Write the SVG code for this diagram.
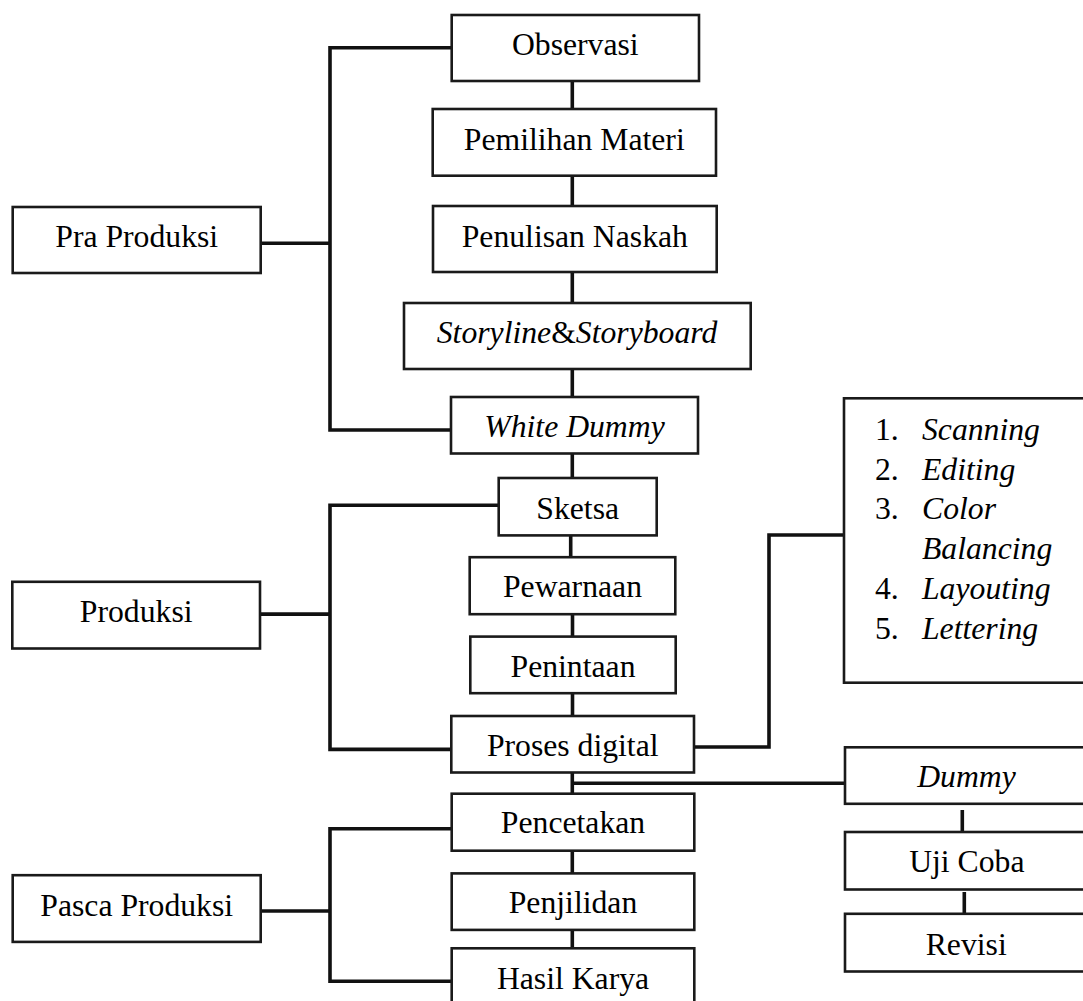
<svg xmlns="http://www.w3.org/2000/svg" width="1083" height="1001" viewBox="0 0 1083 1001">
<style>
.box{fill:#fff;stroke:#1a1a1a;stroke-width:2.6}
.t{font-family:"Liberation Serif","Times New Roman",serif;font-size:31.7px;fill:#000;text-anchor:middle}
.i{font-style:italic}
.l{font-family:"Liberation Serif","Times New Roman",serif;font-size:31.7px;fill:#000}
.c{fill:none;stroke:#111;stroke-width:3.6;stroke-linejoin:miter;stroke-linecap:butt}
</style>
<rect width="1083" height="1001" fill="#fff"/>
<g id="connectors">
<path class="c" d="M452,47.7 H330 V430 H451"/>
<path class="c" d="M260.7,243.3 H330"/>
<path class="c" d="M499,505.2 H330 V749.4 H451.3"/>
<path class="c" d="M260,614.1 H330"/>
<path class="c" d="M451.7,828.8 H330 V981.3 H451.7"/>
<path class="c" d="M260.7,911 H330"/>
<path class="c" d="M572.3,81 V109 M572.3,175.7 V206 M572.3,272 V303 M572.3,369 V397 M572.3,453.5 V478 M570.7,535.4 V557.2 M572.5,614.2 V636.6 M572.5,693.2 V716 M572.3,772.5 V793.7 M572.3,850.7 V873.4 M572.3,929.9 V948.3"/>
<path class="c" d="M572.3,783.3 H845"/>
<path class="c" d="M694,747 H769 V535 H844"/>
<path class="c" d="M962.3,810 V832 M964.3,892 V914"/>
</g>
<g id="observasi"><rect class="box" x="451.7" y="15" width="247.3" height="66"/><text class="t" x="575.3" y="55">Observasi</text></g>
<g id="pemilihan-materi"><rect class="box" x="432.7" y="109" width="283.3" height="66.7"/><text class="t" x="574.3" y="150">Pemilihan Materi</text></g>
<g id="penulisan-naskah"><rect class="box" x="433" y="206" width="283.7" height="66"/><text class="t" x="574.8" y="246.7">Penulisan Naskah</text></g>
<g id="storyline"><rect class="box" x="404" y="303" width="346.7" height="66"/><text class="t" x="577" y="343.3"><tspan class="i">Storyline</tspan>&amp;<tspan class="i">Storyboard</tspan></text></g>
<g id="white-dummy"><rect class="box" x="451" y="397" width="247" height="56.5"/><text class="t i" x="574.5" y="436.7">White Dummy</text></g>
<g id="sketsa"><rect class="box" x="498.7" y="478" width="158" height="57.4"/><text class="t" x="577.7" y="519.2">Sketsa</text></g>
<g id="pewarnaan"><rect class="box" x="469.7" y="557.2" width="205.6" height="57"/><text class="t" x="572.5" y="596.5">Pewarnaan</text></g>
<g id="penintaan"><rect class="box" x="470.3" y="636.6" width="205.4" height="56.6"/><text class="t" x="573" y="676.6">Penintaan</text></g>
<g id="proses-digital"><rect class="box" x="451.3" y="716" width="242.7" height="56.5"/><text class="t" x="572.7" y="755.7">Proses digital</text></g>
<g id="pencetakan"><rect class="box" x="451.7" y="793.7" width="242.6" height="57"/><text class="t" x="573" y="833">Pencetakan</text></g>
<g id="penjilidan"><rect class="box" x="451.7" y="873.4" width="242.6" height="56.5"/><text class="t" x="573" y="912.8">Penjilidan</text></g>
<g id="hasil-karya"><rect class="box" x="451.7" y="948.3" width="242.6" height="60"/><text class="t" x="573" y="988.5">Hasil Karya</text></g>
<g id="pra-produksi"><rect class="box" x="12.7" y="207" width="248" height="66"/><text class="t" x="136.7" y="246.7">Pra Produksi</text></g>
<g id="produksi"><rect class="box" x="12.3" y="581.8" width="247.7" height="66.7"/><text class="t" x="136.2" y="622.2">Produksi</text></g>
<g id="pasca-produksi"><rect class="box" x="12.7" y="875.2" width="248" height="66.7"/><text class="t" x="136.7" y="915.6">Pasca Produksi</text></g>
<g id="digital-steps"><rect class="box" x="844" y="398.3" width="250" height="284.4"/>
<text class="l" x="875" y="440">1.</text><text class="l i" x="922" y="440">Scanning</text>
<text class="l" x="875" y="479.7">2.</text><text class="l i" x="922" y="479.7">Editing</text>
<text class="l" x="875" y="519.4">3.</text><text class="l i" x="922" y="519.4">Color</text>
<text class="l i" x="922" y="559.1">Balancing</text>
<text class="l" x="875" y="598.8">4.</text><text class="l i" x="922" y="598.8">Layouting</text>
<text class="l" x="875" y="638.5">5.</text><text class="l i" x="922" y="638.5">Lettering</text>
</g>
<g id="dummy"><rect class="box" x="845" y="747.3" width="250" height="56.5"/><text class="t i" x="966.5" y="787.3">Dummy</text></g>
<g id="uji-coba"><rect class="box" x="845" y="832" width="250" height="57.5"/><text class="t" x="966.8" y="872.3">Uji Coba</text></g>
<g id="revisi"><rect class="box" x="845" y="913.8" width="250" height="57.7"/><text class="t" x="966.2" y="955">Revisi</text></g>
</svg>
